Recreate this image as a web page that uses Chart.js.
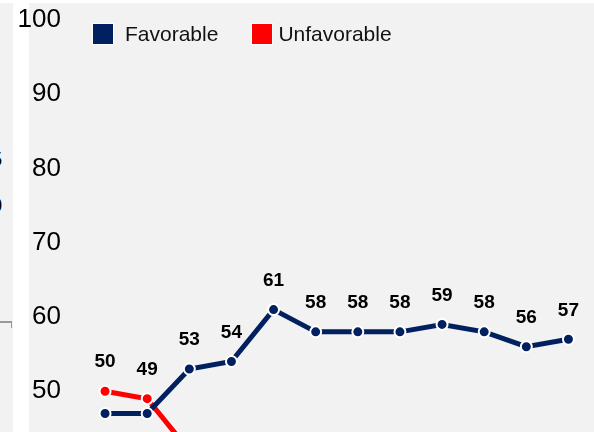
<!DOCTYPE html>
<html>
<head>
<meta charset="utf-8">
<script src="https://cdn.jsdelivr.net/npm/chart.js@4/dist/chart.umd.min.js"></script>
<style>
  html, body { margin: 0; padding: 0; background: #fff; }
  body { width: 594px; height: 432px; overflow: hidden; position: relative; font-family: "Liberation Sans", Arial, sans-serif; }
  .strip-left { position: absolute; left: 0; top: 3px; width: 13px; height: 429px; background: #f2f2f2; overflow: hidden; }
  .strip-left span { position: absolute; font-size: 20px; color: #000; }
  .hline { position: absolute; left: 0; top: 321px; width: 12px; height: 2px; background: #9a9a9a; }
  .vtick { position: absolute; left: 11px; top: 321px; width: 1px; height: 7px; background: #9a9a9a; }
  .plot-bg { position: absolute; left: 29px; top: 3px; right: 0; bottom: 0; background: #f2f2f2; }
  .wrap { position: absolute; left: 0; top: 0; width: 597px; height: 473px; }
  .legend { position: absolute; top: 22px; left: 92px; display: flex; align-items: center; font-size: 21px; color: #111; }
  .legend .item { display: flex; align-items: center; }
  .legend .box { width: 20px; height: 20px; border: 1px solid #fff; box-sizing: content-box; }
</style>
</head>
<body>
<div class="strip-left">
  <span style="left:-9px; top:145px;">5</span>
  <span style="left:-9px; top:191px;">0</span>
</div>
<div class="hline"></div>
<div class="vtick"></div>
<div class="plot-bg"></div>
<div class="wrap"><canvas id="chart" width="597" height="473"></canvas></div>
<div class="legend">
  <div class="item"><div class="box" style="background:#002060"></div><span style="margin-left:11px">Favorable</span></div>
  <div class="item" style="margin-left:33px"><div class="box" style="background:#ff0000"></div><span style="margin-left:5px">Unfavorable</span></div>
</div>
<script>
// ===== Данные =====
const categories = ['1', '2', '3', '4', '5', '6', '7', '8', '9', '10', '11', '12'];
const favorable = [47, 47, 53, 54, 61, 58, 58, 58, 59, 58, 56, 57];
const unfavorable = [50, 49, 42, 41, 35, 37, 37, 37, 36, 37, 38, 39];
const yTicks = [50, 60, 70, 80, 90, 100];

const NAVY = '#002060';
const RED = '#ff0000';

// Подписи значений: над точкой у верхней серии, под точкой у нижней
const valueLabels = {
  id: 'valueLabels',
  afterDatasetsDraw(chart) {
    const ctx = chart.ctx;
    ctx.save();
    ctx.font = 'bold 19px "Liberation Sans", Arial, sans-serif';
    ctx.fillStyle = '#000';
    ctx.textAlign = 'center';
    ctx.textBaseline = 'middle';
    chart.data.datasets.forEach((ds, di) => {
      const other = chart.data.datasets[1 - di].data;
      chart.getDatasetMeta(di).data.forEach((pt, i) => {
        const above = ds.data[i] >= other[i];
        const y = above ? pt.y - 29 : pt.y + 29;
        ctx.fillText(String(ds.data[i]), pt.x, y);
      });
    });
    ctx.restore();
  }
};

new Chart(document.getElementById('chart').getContext('2d'), {
  type: 'line',
  data: {
    labels: categories,
    datasets: [{
      label: 'Favorable',
      data: favorable,
      borderColor: NAVY,
      backgroundColor: NAVY,
      borderWidth: 5,
      pointRadius: 5.5,
      pointBorderWidth: 2,
      pointBorderColor: '#fff',
      pointBackgroundColor: NAVY,
      tension: 0
    }, {
      label: 'Unfavorable',
      data: unfavorable,
      borderColor: RED,
      backgroundColor: RED,
      borderWidth: 5,
      pointRadius: 5.5,
      pointBorderWidth: 2,
      pointBorderColor: '#fff',
      pointBackgroundColor: RED,
      tension: 0
    }]
  },
  options: {
    responsive: false,
    animation: false,
    // точки сами дают отступ 7.5px по краям, поэтому холст чуть больше окна
    layout: { padding: { top: 20, bottom: 0, left: 0, right: 0 } },
    plugins: {
      legend: { display: false },
      tooltip: { enabled: false }
    },
    scales: {
      x: {
        display: false,
        offset: true
      },
      y: {
        min: 40,
        max: 100,
        grid: { display: false, drawTicks: false },
        border: { display: false },
        afterFit(scale) {
          scale.width = 84;
          scale.paddingTop = 0;
          scale.paddingBottom = 0;
        },
        afterBuildTicks(scale) { scale.ticks = yTicks.map(v => ({ value: v })); },
        ticks: {
          padding: 23,
          color: '#000',
          font: { family: '"Liberation Sans", Arial, sans-serif', size: 26 }
        }
      }
    }
  },
  plugins: [valueLabels]
});
</script>
</body>
</html>
